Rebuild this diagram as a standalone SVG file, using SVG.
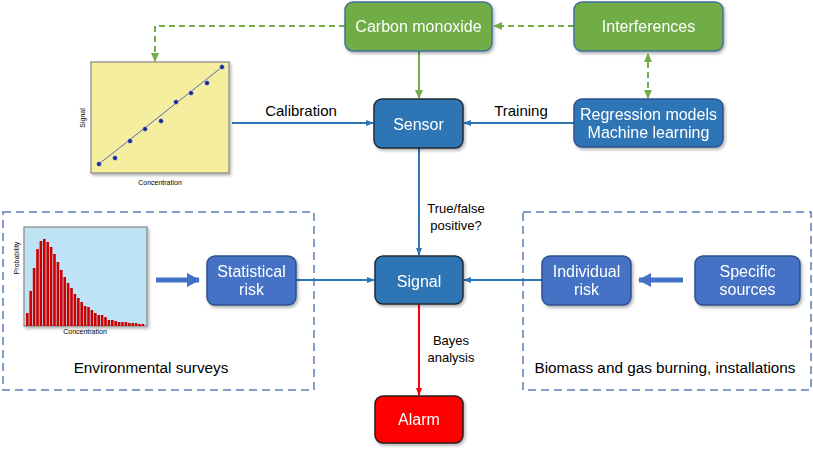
<svg xmlns="http://www.w3.org/2000/svg" width="813" height="450" viewBox="0 0 813 450">
<defs>
<style>
.t{font-family:"Liberation Sans",Arial,sans-serif;}
.bt{font-family:"Liberation Sans",Arial,sans-serif;font-size:16px;fill:#fff;text-anchor:middle;}
.lt{font-family:"Liberation Sans",Arial,sans-serif;fill:#000;text-anchor:middle;}
.green{fill:#70AD47;stroke:#41719C;stroke-width:1.5;}
.dblue{fill:#2E75B6;stroke:#1F2A36;stroke-width:1.5;}
.mblue{fill:#2E75B6;stroke:#2F528F;stroke-width:1.5;}
.lblue{fill:#4472C4;stroke:#2F528F;stroke-width:1.5;}
.red{fill:#FF0000;stroke:#2A1A1A;stroke-width:1.5;}
.conn{fill:none;stroke:#2E75B6;stroke-width:2;}
.gd{fill:none;stroke:#70AD47;stroke-width:2;stroke-dasharray:6,4;}
.frame{fill:none;stroke:#5A7FB8;stroke-width:1.5;stroke-dasharray:8,5;}
</style>
<marker id="ab" markerWidth="8" markerHeight="8" refX="7" refY="4" orient="auto" markerUnits="userSpaceOnUse"><path d="M0,1 L8,4 L0,7 z" fill="#2E75B6"/></marker>
<marker id="ag" markerWidth="10" markerHeight="10" refX="8" refY="5" orient="auto" markerUnits="userSpaceOnUse"><path d="M0,1 L9,5 L0,9 z" fill="#70AD47"/></marker>
<marker id="agr" markerWidth="10" markerHeight="10" refX="1" refY="5" orient="auto" markerUnits="userSpaceOnUse"><path d="M9,1 L0,5 L9,9 z" fill="#70AD47"/></marker>
<marker id="ar" markerWidth="8" markerHeight="8" refX="7" refY="4" orient="auto" markerUnits="userSpaceOnUse"><path d="M0,1 L8,4 L0,7 z" fill="#FF0000"/></marker>
<marker id="at" markerWidth="14" markerHeight="14" refX="12" refY="7" orient="auto" markerUnits="userSpaceOnUse"><path d="M0,0 L13,7 L0,14 z" fill="#4472C4"/></marker>
<filter id="sh" x="-10%" y="-10%" width="130%" height="140%"><feDropShadow dx="1.5" dy="2" stdDeviation="1.5" flood-color="#000" flood-opacity="0.3"/></filter>
</defs>
<rect width="813" height="450" fill="#fff"/>

<g id="frames">
<rect id="env-frame" x="3" y="212" width="311" height="178" class="frame"/>
<rect id="biomass-frame" x="523" y="212" width="288" height="178" class="frame"/>
<text class="lt" x="151" y="373" font-size="15.3">Environmental surveys</text>
<text class="lt" x="665" y="373" font-size="15.3">Biomass and gas burning, installations</text>
</g>

<g id="connectors">
<path class="gd" d="M345,26 H155 V61" marker-end="url(#ag)"/>
<path class="gd" d="M574,26 H494" marker-end="url(#ag)"/>
<path class="gd" d="M648,98 V54" marker-start="url(#agr)" marker-end="url(#ag)"/>
<path fill="none" stroke="#70AD47" stroke-width="2" d="M419,51 V98" marker-end="url(#ag)"/>
<path class="conn" d="M232,123 H373" marker-end="url(#ab)"/>
<path class="conn" d="M574,123 H464" marker-end="url(#ab)"/>
<path class="conn" d="M419,148 V255" marker-end="url(#ab)"/>
<path class="conn" d="M296,280 H374" marker-end="url(#ab)"/>
<path class="conn" d="M542,280 H464" marker-end="url(#ab)"/>
<path fill="none" stroke="#FF0000" stroke-width="2" d="M419,304 V395" marker-end="url(#ar)"/>
<path fill="none" stroke="#4472C4" stroke-width="5" d="M156,280 H199" marker-end="url(#at)"/>
<path fill="none" stroke="#4472C4" stroke-width="5" d="M683,280 H639" marker-end="url(#at)"/>
<text class="lt" x="301" y="116" font-size="15">Calibration</text>
<text class="lt" x="521" y="116" font-size="15">Training</text>
<text class="lt" x="456" y="213" font-size="13">True/false</text>
<text class="lt" x="456" y="230" font-size="13">positive?</text>
<text class="lt" x="451" y="345" font-size="13">Bayes</text>
<text class="lt" x="451" y="362" font-size="13">analysis</text>
</g>

<g id="carbon-monoxide" filter="url(#sh)">
<rect x="345" y="2" width="147" height="49" rx="8" class="green"/>
<text class="bt" x="418.5" y="32">Carbon monoxide</text>
</g>
<g id="interferences" filter="url(#sh)">
<rect x="574" y="2" width="149" height="49" rx="8" class="green"/>
<text class="bt" x="648.5" y="32">Interferences</text>
</g>
<g id="sensor" filter="url(#sh)">
<rect x="374" y="99" width="89" height="49" rx="8" class="dblue"/>
<text class="bt" x="418.5" y="130">Sensor</text>
</g>
<g id="regression" filter="url(#sh)">
<rect x="574" y="99" width="149" height="48" rx="8" class="mblue"/>
<text class="bt" x="648.5" y="120">Regression models</text>
<text class="bt" x="648.5" y="138">Machine learning</text>
</g>
<g id="signal" filter="url(#sh)">
<rect x="375" y="256" width="88" height="48" rx="8" class="dblue"/>
<text class="bt" x="419" y="287">Signal</text>
</g>
<g id="statistical-risk" filter="url(#sh)">
<rect x="207" y="256" width="89" height="49" rx="8" class="lblue"/>
<text class="bt" x="251.5" y="277">Statistical</text>
<text class="bt" x="251.5" y="295">risk</text>
</g>
<g id="individual-risk" filter="url(#sh)">
<rect x="542" y="256" width="89" height="49" rx="8" class="lblue"/>
<text class="bt" x="586.5" y="277">Individual</text>
<text class="bt" x="586.5" y="295">risk</text>
</g>
<g id="specific-sources" filter="url(#sh)">
<rect x="695" y="256" width="105" height="49" rx="8" class="lblue"/>
<text class="bt" x="747.5" y="277">Specific</text>
<text class="bt" x="747.5" y="295">sources</text>
</g>
<g id="alarm" filter="url(#sh)">
<rect x="375" y="396" width="88" height="47" rx="8" class="red"/>
<text class="bt" x="419" y="425">Alarm</text>
</g>

<g id="calibration-plot">
<rect x="91" y="62" width="138" height="111" fill="#F5EE9E" stroke="#888" stroke-width="1.2" filter="url(#sh)"/>
<line x1="99" y1="164" x2="222" y2="67" stroke="#5C6BB0" stroke-width="1"/>
<g fill="#1A2A8C" stroke="#fff" stroke-width="0.5">
<circle cx="99" cy="164" r="2.5"/><circle cx="115" cy="158" r="2.5"/><circle cx="130" cy="141" r="2.5"/>
<circle cx="145" cy="129" r="2.5"/><circle cx="161" cy="121" r="2.5"/><circle cx="176" cy="102" r="2.5"/>
<circle cx="191" cy="93" r="2.5"/><circle cx="207" cy="83" r="2.5"/><circle cx="222" cy="67" r="2.5"/>
</g>
<text class="lt" x="160" y="185" font-size="7">Concentration</text>
<text class="lt" x="85" y="118" font-size="7" transform="rotate(-90 85 118)">Signal</text>
</g>

<g id="histogram-plot">
<rect x="24" y="227" width="123" height="99" fill="#BEE3F5" stroke="#888" stroke-width="1.2" filter="url(#sh)"/>
<g fill="#CC0000" id="bars">
<rect x="26" y="313" width="2.6" height="13"/>
<rect x="29.4" y="291" width="2.6" height="35"/>
<rect x="32.8" y="268" width="2.6" height="58"/>
<rect x="36.2" y="249" width="2.6" height="77"/>
<rect x="39.6" y="241" width="2.6" height="85"/>
<rect x="43" y="239" width="2.6" height="87"/>
<rect x="46.4" y="242" width="2.6" height="84"/>
<rect x="49.8" y="247" width="2.6" height="79"/>
<rect x="53.2" y="254" width="2.6" height="72"/>
<rect x="56.6" y="262" width="2.6" height="64"/>
<rect x="60" y="270" width="2.6" height="56"/>
<rect x="63.4" y="277" width="2.6" height="49"/>
<rect x="66.8" y="283" width="2.6" height="43"/>
<rect x="70.2" y="288" width="2.6" height="38"/>
<rect x="73.6" y="294" width="2.6" height="32"/>
<rect x="77" y="298" width="2.6" height="28"/>
<rect x="80.4" y="302" width="2.6" height="24"/>
<rect x="83.8" y="306" width="2.6" height="20"/>
<rect x="87.2" y="307" width="2.6" height="19"/>
<rect x="90.6" y="310" width="2.6" height="16"/>
<rect x="94" y="313" width="2.6" height="13"/>
<rect x="97.4" y="315" width="2.6" height="11"/>
<rect x="100.8" y="315" width="2.6" height="11"/>
<rect x="104.2" y="317" width="2.6" height="9"/>
<rect x="107.6" y="320" width="2.6" height="6"/>
<rect x="111" y="320" width="2.6" height="6"/>
<rect x="114.4" y="321" width="2.6" height="5"/>
<rect x="117.8" y="322" width="2.6" height="4"/>
<rect x="121.2" y="322" width="2.6" height="4"/>
<rect x="124.6" y="322" width="2.6" height="4"/>
<rect x="128" y="323" width="2.6" height="3"/>
<rect x="131.4" y="323" width="2.6" height="3"/>
<rect x="134.8" y="323" width="2.6" height="3"/>
<rect x="138.2" y="324" width="2.6" height="2"/>
<rect x="141.6" y="324" width="2.6" height="2"/>
</g>
<text class="lt" x="85" y="334" font-size="7">Concentration</text>
<text class="lt" x="19" y="258" font-size="7" transform="rotate(-90 19 258)">Probability</text>
</g>
</svg>
